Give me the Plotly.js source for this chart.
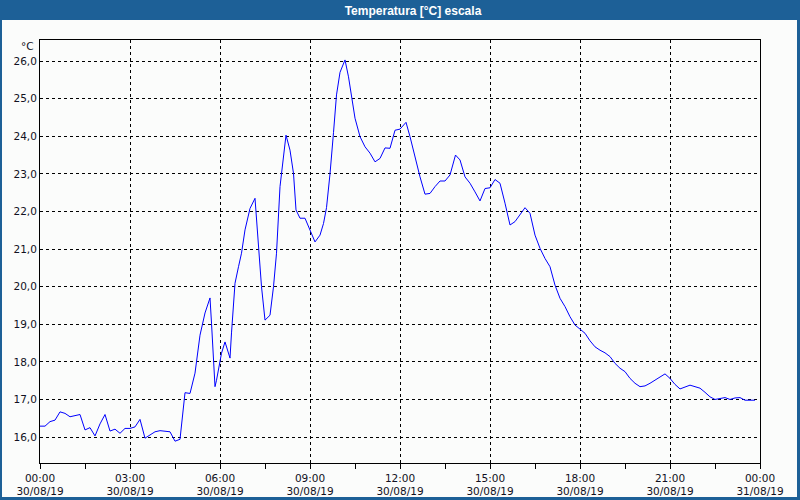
<!DOCTYPE html>
<html>
<head>
<meta charset="utf-8">
<script src="https://cdn.plot.ly/plotly-3.0.1.min.js"></script>
<style>
html,body{margin:0;padding:0;background:#fbfcfb;}
#chart{width:800px;height:500px;}
</style>
</head>
<body>
<div id="chart"></div>
<script>
// Data (30/08/19)
const times = ["00:00","00:10","00:20","00:30","00:40","00:50","01:00","01:10","01:20","01:30","01:40","01:50",
"02:00","02:10","02:20","02:30","02:40","02:50","03:00","03:10","03:20","03:30","03:40","03:50",
"04:00","04:10","04:20","04:30","04:40","04:50","05:00","05:10","05:20","05:30","05:40","05:43","05:47","05:50","05:53","05:57",
"06:03","06:10","06:17","06:20","06:23","06:30","06:37","06:43","06:50","07:00","07:10","07:17","07:23","07:30","07:40","07:47","07:53",
"08:00","08:07","08:12","08:20","08:27","08:32","08:40","08:50","08:57","09:03","09:10","09:20","09:27","09:33","09:40","09:47","09:53",
"10:00","10:10","10:17","10:23","10:30","10:40","10:50","11:00","11:10","11:20","11:30","11:40","11:50",
"12:00","12:12","12:20","12:30","12:40","12:50","13:00","13:10","13:20","13:30","13:40","13:51",
"14:00","14:10","14:20","14:30","14:40","14:50","15:00","15:10","15:20","15:30","15:40","15:50",
"16:00","16:10","16:20","16:30","16:40","16:50","17:00","17:10","17:20","17:30","17:40","17:50",
"18:00","18:10","18:20","18:30","18:40","18:50","19:00","19:10","19:20","19:30","19:40","19:50",
"20:00","20:10","20:20","20:30","20:40","20:50","21:00","21:10","21:20","21:30","21:40","21:50",
"22:00","22:10","22:20","22:30","22:40","22:50","23:00","23:10","23:20","23:30","23:40","23:50"];
const temps = [16.29,16.29,16.41,16.45,16.67,16.63,16.54,16.56,16.60,16.19,16.25,16.03,
16.35,16.60,16.16,16.21,16.10,16.23,16.23,16.27,16.47,15.97,16.05,16.14,
16.17,16.16,16.14,15.89,15.94,17.18,17.16,17.70,18.71,19.30,19.70,19.03,18.05,17.34,17.51,17.78,
18.23,18.53,18.27,18.10,18.77,20.09,20.53,20.89,21.51,22.08,22.35,21.06,20.00,19.11,19.24,20.00,20.89,
22.66,23.55,24.03,23.63,23.01,22.04,21.82,21.82,21.59,21.37,21.19,21.37,21.68,22.10,23.00,24.10,25.10,
25.70,26.03,25.58,25.05,24.48,23.99,23.72,23.55,23.32,23.41,23.69,23.68,24.16,
24.19,24.37,23.99,23.45,22.92,22.46,22.48,22.66,22.81,22.81,22.97,23.50,
23.37,22.92,22.75,22.52,22.28,22.61,22.63,22.85,22.75,22.22,21.64,21.73,
21.90,22.10,21.95,21.37,21.02,20.75,20.53,20.04,19.69,19.47,19.20,18.98,
18.87,18.76,18.56,18.40,18.31,18.24,18.14,17.96,17.83,17.74,17.56,17.43,
17.34,17.36,17.43,17.52,17.59,17.68,17.56,17.40,17.28,17.34,17.38,17.34,
17.30,17.19,17.07,17.00,17.03,17.05,17.00,17.04,17.05,16.98,16.98,16.98];
const tickVals = ["2019-08-30 00:00","2019-08-30 03:00","2019-08-30 06:00","2019-08-30 09:00","2019-08-30 12:00",
"2019-08-30 15:00","2019-08-30 18:00","2019-08-30 21:00","2019-08-31 00:00"];
const tickText = ["00:00<br>30/08/19","03:00<br>30/08/19","06:00<br>30/08/19","09:00<br>30/08/19","12:00<br>30/08/19",
"15:00<br>30/08/19","18:00<br>30/08/19","21:00<br>30/08/19","00:00<br>31/08/19"];
const yTicks = [16,17,18,19,20,21,22,23,24,25,26];
const titleText = "Temperatura [°C] escala";
const unitText = "°C";

const x = times.map(t => "2019-08-30 " + t);

// plot area: px x 40..760, y 40..463
const L = 40, R = 760, T = 40, B = 463;
const px = v => (v - L) / (R - L);
const py = v => (B - v) / (B - T);
const blue = "#1d6097";
const tickFont = {family: "DejaVu Sans, Verdana, sans-serif", size: 10.5, color: "#111122"};

const layout = {
  width: 800, height: 500,
  margin: {l: L, r: 800 - R, t: T, b: 500 - B, pad: 0},
  paper_bgcolor: "#fbfcfb",
  plot_bgcolor: "#fbfcfb",
  separators: ",.",
  showlegend: false,
  font: tickFont,
  title: {
    text: "<b>" + titleText + "</b>",
    font: {family: "Liberation Sans, Arial, sans-serif", size: 12, color: "#ffffff"},
    x: 413 / 800, xref: "container", xanchor: "center",
    y: 1 - 10.5 / 500, yref: "container", yanchor: "middle"
  },
  xaxis: {
    type: "date",
    range: ["2019-08-30 00:00", "2019-08-31 00:00"],
    tickmode: "array", tickvals: tickVals, ticktext: tickText,
    ticks: "outside", ticklen: 5, tickcolor: "#000", tickwidth: 1,
    minor: {dtick: 5400000, tick0: "2019-08-30 00:00", ticks: "outside", ticklen: 5, tickcolor: "#000", showgrid: false},
    showgrid: true, gridcolor: "#000", gridwidth: 1, griddash: "3px,3px",
    showline: true, linecolor: "#000", linewidth: 1, mirror: true,
    zeroline: false, fixedrange: true,
    tickfont: tickFont
  },
  yaxis: {
    range: [15.31, 26.56],
    tickmode: "array", tickvals: yTicks, tickformat: ".1f",
    ticks: "", showgrid: true, gridcolor: "#000", gridwidth: 1, griddash: "3px,3px",
    showline: true, linecolor: "#000", linewidth: 1, mirror: true,
    zeroline: false, fixedrange: true,
    tickfont: tickFont
  },
  shapes: [
    {type: "rect", xref: "paper", yref: "paper", x0: px(0), x1: px(800), y0: py(0), y1: py(20),
     fillcolor: blue, line: {width: 0}, layer: "below"},
    {type: "rect", xref: "paper", yref: "paper", x0: px(0), x1: px(2), y0: py(0), y1: py(500),
     fillcolor: blue, line: {width: 0}},
    {type: "rect", xref: "paper", yref: "paper", x0: px(797), x1: px(800), y0: py(0), y1: py(500),
     fillcolor: blue, line: {width: 0}},
    {type: "rect", xref: "paper", yref: "paper", x0: px(0), x1: px(800), y0: py(497), y1: py(500),
     fillcolor: blue, line: {width: 0}}
  ],
  annotations: [
    {text: unitText, xref: "paper", yref: "paper", x: px(36), y: py(46), xanchor: "right", yanchor: "middle",
     showarrow: false, font: tickFont}
  ]
};

const data = [{
  type: "scatter", mode: "lines", x: x, y: temps,
  line: {color: "#0000ff", width: 1}, hoverinfo: "x+y"
}];

Plotly.newPlot("chart", data, layout, {displayModeBar: false, staticPlot: true});
</script>
</body>
</html>
